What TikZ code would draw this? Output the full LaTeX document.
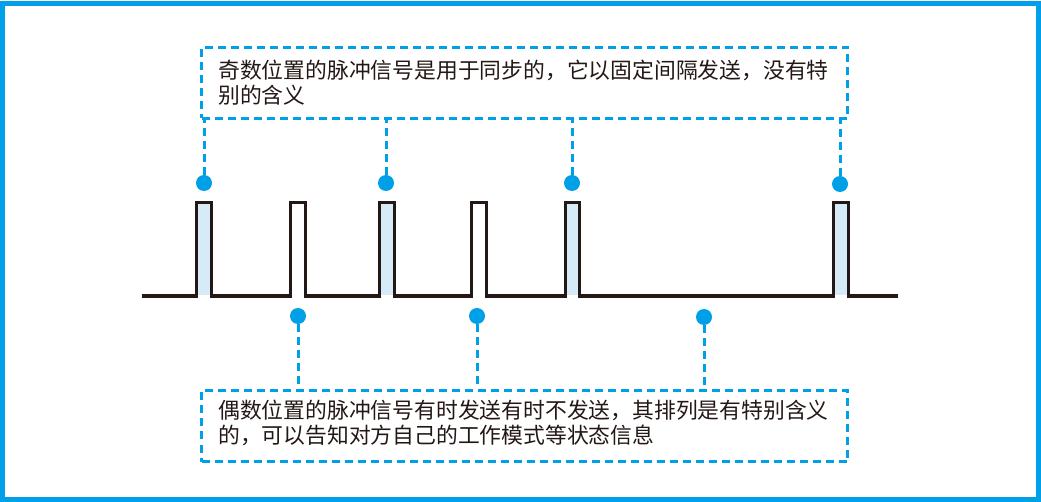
\documentclass[tikz,border=0pt]{standalone}
\usepackage{fontspec}
\newfontfamily\cjk{Noto Sans CJK SC}
\definecolor{frameblue}{HTML}{00A0E9}
\definecolor{pulsefill}{HTML}{D5EBF8}
\definecolor{ink}{HTML}{231815}
\tikzset{
  dashbox/.style={draw=frameblue, line width=3pt, dash pattern=on 8pt off 5pt},
  dashline/.style={draw=frameblue, line width=3pt, dash pattern=on 8pt off 5pt},
  dotmark/.style={circle, fill=frameblue, inner sep=0pt, minimum size=16pt},
  wave/.style={draw=ink, line width=3.2pt, line join=miter},
  note/.style={font=\cjk\fontsize{21.8}{25}\selectfont, text=ink, align=left, anchor=north west, inner sep=0pt},
}
\begin{document}
\begin{tikzpicture}[x=1pt,y=-1pt]
\useasboundingbox (0,0) rectangle (1041,502);
\draw[frameblue, line width=5pt] (2.5,3.5) rectangle (1038.5,499.5);
% boxes
\node[dashbox, minimum width=646pt, minimum height=71pt, anchor=north west, inner sep=0pt] (top) at (200,46) {};
\node[dashbox, minimum width=646pt, minimum height=71pt, anchor=north west, inner sep=0pt] (bot) at (200,389) {};
\node[note] (toptext) at (218,60) {奇数位置的脉冲信号是用于同步的，它以固定间隔发送，没有特\\别的含义};
\node[note] (bottext) at (218,400) {偶数位置的脉冲信号有时发送有时不发送，其排列是有特别含义\\的，可以告知对方自己的工作模式等状态信息};
% pulse fills
\foreach \a/\b in {198/210, 381/393, 567/578, 835/847}
  \fill[pulsefill] (\a,204) rectangle (\b,295);
% waveform
\draw[wave] (142,296) -- (196.5,296) -- (196.5,202.5) -- (211.5,202.5) -- (211.5,296)
  -- (290.5,296) -- (290.5,202.5) -- (305.5,202.5) -- (305.5,296)
  -- (379.5,296) -- (379.5,202.5) -- (394.5,202.5) -- (394.5,296)
  -- (471.5,296) -- (471.5,202.5) -- (486.5,202.5) -- (486.5,296)
  -- (565.5,296) -- (565.5,202.5) -- (579.5,202.5) -- (579.5,296)
  -- (833.5,296) -- (833.5,202.5) -- (848.5,202.5) -- (848.5,296) -- (898,296);
% dots
\node[dotmark] (t1) at (204,183) {};
\node[dotmark] (t2) at (386,183) {};
\node[dotmark] (t3) at (572,183) {};
\node[dotmark] (t4) at (840,184) {};
\node[dotmark] (b1) at (298,316) {};
\node[dotmark] (b2) at (477,316) {};
\node[dotmark] (b3) at (704,317) {};
\foreach \d in {t1,t2,t3,t4}
  \draw[dashline] (\d.north) -- (\d |- top.south);
\foreach \d in {b1,b2,b3}
  \draw[dashline] (\d.south) -- (\d |- bot.north);
\end{tikzpicture}
\end{document}
